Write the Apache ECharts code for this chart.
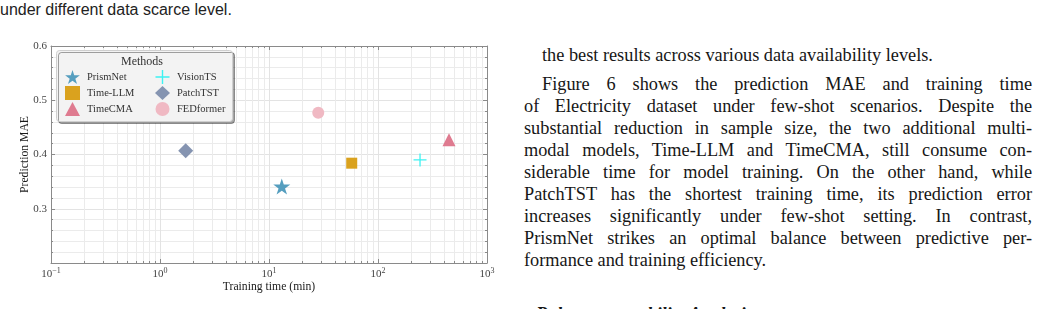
<!DOCTYPE html>
<html>
<head>
<meta charset="utf-8">
<script src="https://cdn.jsdelivr.net/npm/echarts@6/dist/echarts.min.js"></script>
<style>
	html, body { margin: 0; padding: 0; background: #fff; }
	#page { position: relative; width: 1041px; height: 309px; overflow: hidden; }
	#chart { position: absolute; left: 0; top: 0; width: 520px; height: 309px; }
	.caption { position: absolute; left: 0; top: 1px; font-family: "Liberation Sans", Arial, sans-serif; font-size: 16px; color: #222; }
	.para { position: absolute; left: 524px; width: 508px; font-family: "Liberation Serif", serif; font-size: 18.3px; color: #161616; }
	.para div { height: 22px; line-height: 22px; text-align: justify; text-align-last: justify; }
	.para div.last { text-align: left; text-align-last: left; }
	.para div.indent { padding-left: 18px; }
	.heading { position: absolute; left: 536px; top: 304px; font-family: "Liberation Serif", serif; font-size: 18.3px; font-weight: bold; font-style: italic; color: #161616; }
</style>
</head>
<body>
<div id="page">
	<div class="caption">under different data scarce level.</div>
	<div id="chart"></div>
	<div class="para" style="top: 44px;">
		<div class="last indent">the best results across various data availability levels.</div>
	</div>
	<div class="para" style="top: 73px;">
		<div class="indent">Figure 6 shows the prediction MAE and training time</div>
		<div>of Electricity dataset under few-shot scenarios. Despite the</div>
		<div>substantial reduction in sample size, the two additional multi-</div>
		<div>modal models, Time-LLM and TimeCMA, still consume con-</div>
		<div>siderable time for model training. On the other hand, while</div>
		<div>PatchTST has the shortest training time, its prediction error</div>
		<div>increases significantly under few-shot setting. In contrast,</div>
		<div>PrismNet strikes an optimal balance between predictive per-</div>
		<div class="last">formance and training efficiency.</div>
	</div>
	<div class="heading">Robustness stability Analysis</div>
</div>
<script>
/* Data */
const methods = ["PrismNet", "Time-LLM", "TimeCMA", "VisionTS", "PatchTST", "FEDformer"];
const trainingTime = [13.1, 57.4, 448, 243, 1.72, 28.3];
const predictionMAE = [0.341, 0.384, 0.427, 0.390, 0.407, 0.477];
const minorTimes = [0.2, 0.3, 0.4, 0.5, 0.6, 0.7, 0.8, 0.9,
	2, 3, 4, 5, 6, 7, 8, 9,
	20, 30, 40, 50, 60, 70, 80, 90,
	200, 300, 400, 500, 600, 700, 800, 900];

/* Axis ranges */
const xMin = 0.1, xMax = 1000;
const yMin = 0.2, yMax = 0.6;

/* Styles */
const serif = "Liberation Serif";
const axisGray = "#8a8a8a";
const starPath = "path://M50 0L61.2 34.5L97.6 34.5L68.2 55.9L79.4 90.5L50 69.1L20.6 90.5L31.8 55.9L2.4 34.5L38.8 34.5Z";
const plusPath = "path://M45 0H55V45H100V55H55V100H45V55H0V45H45Z";
const methodStyles = [
	{ symbol: starPath, size: 17, color: "#559ebf" },
	{ symbol: "rect", size: 11, color: "#daa21e" },
	{ symbol: "triangle", size: 13, color: "#df7b90" },
	{ symbol: plusPath, size: 13, color: "#3ef2f2" },
	{ symbol: "diamond", size: 15, color: "#8594b1" },
	{ symbol: "circle", size: 12, color: "#f0b9c3" },
];

function minorGridRenderer(_, api) {
	/*
	 * Minor log-decade grid line plus small inside ticks top and bottom
	 */
	const t = api.value(0);
	const bottom = api.coord([t, yMin]);
	const top = api.coord([t, yMax]);
	const x = Math.round(bottom[0]) + 0.5;
	return {
		type: "group",
		children: [
			{ type: "line", shape: { x1: x, y1: bottom[1], x2: x, y2: top[1] }, style: { stroke: "#ebebeb", lineWidth: 1 } },
			{ type: "line", shape: { x1: x, y1: bottom[1], x2: x, y2: bottom[1] - 2 }, style: { stroke: axisGray, lineWidth: 1 } },
			{ type: "line", shape: { x1: x, y1: top[1], x2: x, y2: top[1] + 2 }, style: { stroke: axisGray, lineWidth: 1 } },
		],
	};
}

function powerLabel(value) {
	const exp = Math.round(Math.log10(value));
	return "{b|10}{s|" + (exp < 0 ? "\u2212" + (-exp) : exp) + "}";
}

const xAxisBase = () => ({
	type: "log",
	logBase: 10,
	min: xMin,
	max: xMax,
	axisLine: { lineStyle: { color: axisGray, width: 1 } },
	axisTick: { show: true, inside: true, length: 4, lineStyle: { color: axisGray } },
	splitLine: { show: false },
});

const yAxisBase = () => ({
	type: "value",
	min: yMin,
	max: yMax,
	interval: 0.1,
	axisLine: { show: true, lineStyle: { color: axisGray, width: 1 } },
	axisTick: { show: true, inside: true, length: 4, lineStyle: { color: axisGray } },
	minorTick: { show: true, splitNumber: 5, length: 2, lineStyle: { color: axisGray } },
	splitLine: { show: false },
});

const bottomAxis = xAxisBase();
bottomAxis.position = "bottom";
bottomAxis.name = "Training time (min)";
bottomAxis.nameLocation = "middle";
bottomAxis.nameMoveOverlap = false;
bottomAxis.nameGap = 18;
bottomAxis.nameTextStyle = { fontFamily: serif, fontSize: 11.7, color: "#1a1a1a" };
bottomAxis.axisLabel = {
	margin: 4,
	formatter: powerLabel,
	rich: {
		b: { fontFamily: serif, fontSize: 11, color: "#444" },
		s: { fontFamily: serif, fontSize: 8, color: "#444", padding: [0, 0, 7, 0] },
	},
};
bottomAxis.splitLine = { show: true, lineStyle: { color: "#e3e3e3", width: 1 } };

const topAxis = xAxisBase();
topAxis.position = "top";
topAxis.axisLabel = { show: false };

const leftAxis = yAxisBase();
leftAxis.position = "left";
leftAxis.name = "Prediction MAE";
leftAxis.nameLocation = "middle";
leftAxis.nameMoveOverlap = false;
leftAxis.nameGap = 20;
leftAxis.nameTextStyle = { fontFamily: serif, fontSize: 11.7, color: "#1a1a1a" };
leftAxis.axisLabel = {
	margin: 4,
	showMinLabel: false,
	formatter: (v) => v.toFixed(1),
	fontFamily: serif,
	fontSize: 11,
	color: "#444",
};
leftAxis.splitLine = { show: true, lineStyle: { color: "#e3e3e3", width: 1 } };
leftAxis.minorSplitLine = { show: true, lineStyle: { color: "#ebebeb", width: 1 } };

const rightAxis = yAxisBase();
rightAxis.position = "right";
rightAxis.axisLabel = { show: false };

const methodSeries = methods.map((name, i) => ({
	name: name,
	type: "scatter",
	xAxisIndex: 0,
	yAxisIndex: 0,
	symbol: methodStyles[i].symbol,
	symbolSize: methodStyles[i].size,
	symbolKeepAspect: true,
	itemStyle: { color: methodStyles[i].color, opacity: 1 },
	data: [[trainingTime[i], predictionMAE[i]]],
	z: 3,
}));

const legendBase = (names, left) => ({
	data: names,
	orient: "vertical",
	left: left,
	top: 70,
	padding: 0,
	itemGap: 2,
	itemWidth: 15,
	itemHeight: 14,
	textStyle: { fontFamily: serif, fontSize: 10.5, color: "#333", padding: [0, 0, 0, 2] },
	selectedMode: false,
	z: 6,
});

const option = {
	animation: false,
	grid: { left: 51, top: 46, right: 33, bottom: 46, containLabel: false },
	xAxis: [bottomAxis, topAxis],
	yAxis: [leftAxis, rightAxis],
	legend: [legendBase(methods.slice(0, 3), 65), legendBase(methods.slice(3), 155)],
	graphic: [
		{
			type: "rect",
			left: 56,
			top: 50,
			z: 5,
			shape: { width: 176, height: 71, r: 3 },
			style: {
				fill: "#f3f3f3",
				stroke: "#cfcfcf",
				lineWidth: 1,
				shadowColor: "rgba(0, 0, 0, 0.35)",
				shadowOffsetX: 2,
				shadowOffsetY: 2,
				shadowBlur: 0,
			},
		},
		{
			type: "text",
			left: 121,
			top: 56,
			z: 7,
			style: { text: "Methods", fontFamily: serif, fontSize: 12, fill: "#333" },
		},
	],
	series: [
		{
			name: "minor-grid",
			type: "custom",
			renderItem: minorGridRenderer,
			silent: true,
			z: 1,
			encode: { x: 0, y: 1 },
			data: minorTimes.map((t) => [t, yMin]),
		},
		...methodSeries,
	],
};

const myChart = echarts.init(document.getElementById("chart"), null, { renderer: "canvas" });
myChart.setOption(option);
</script>
</body>
</html>
